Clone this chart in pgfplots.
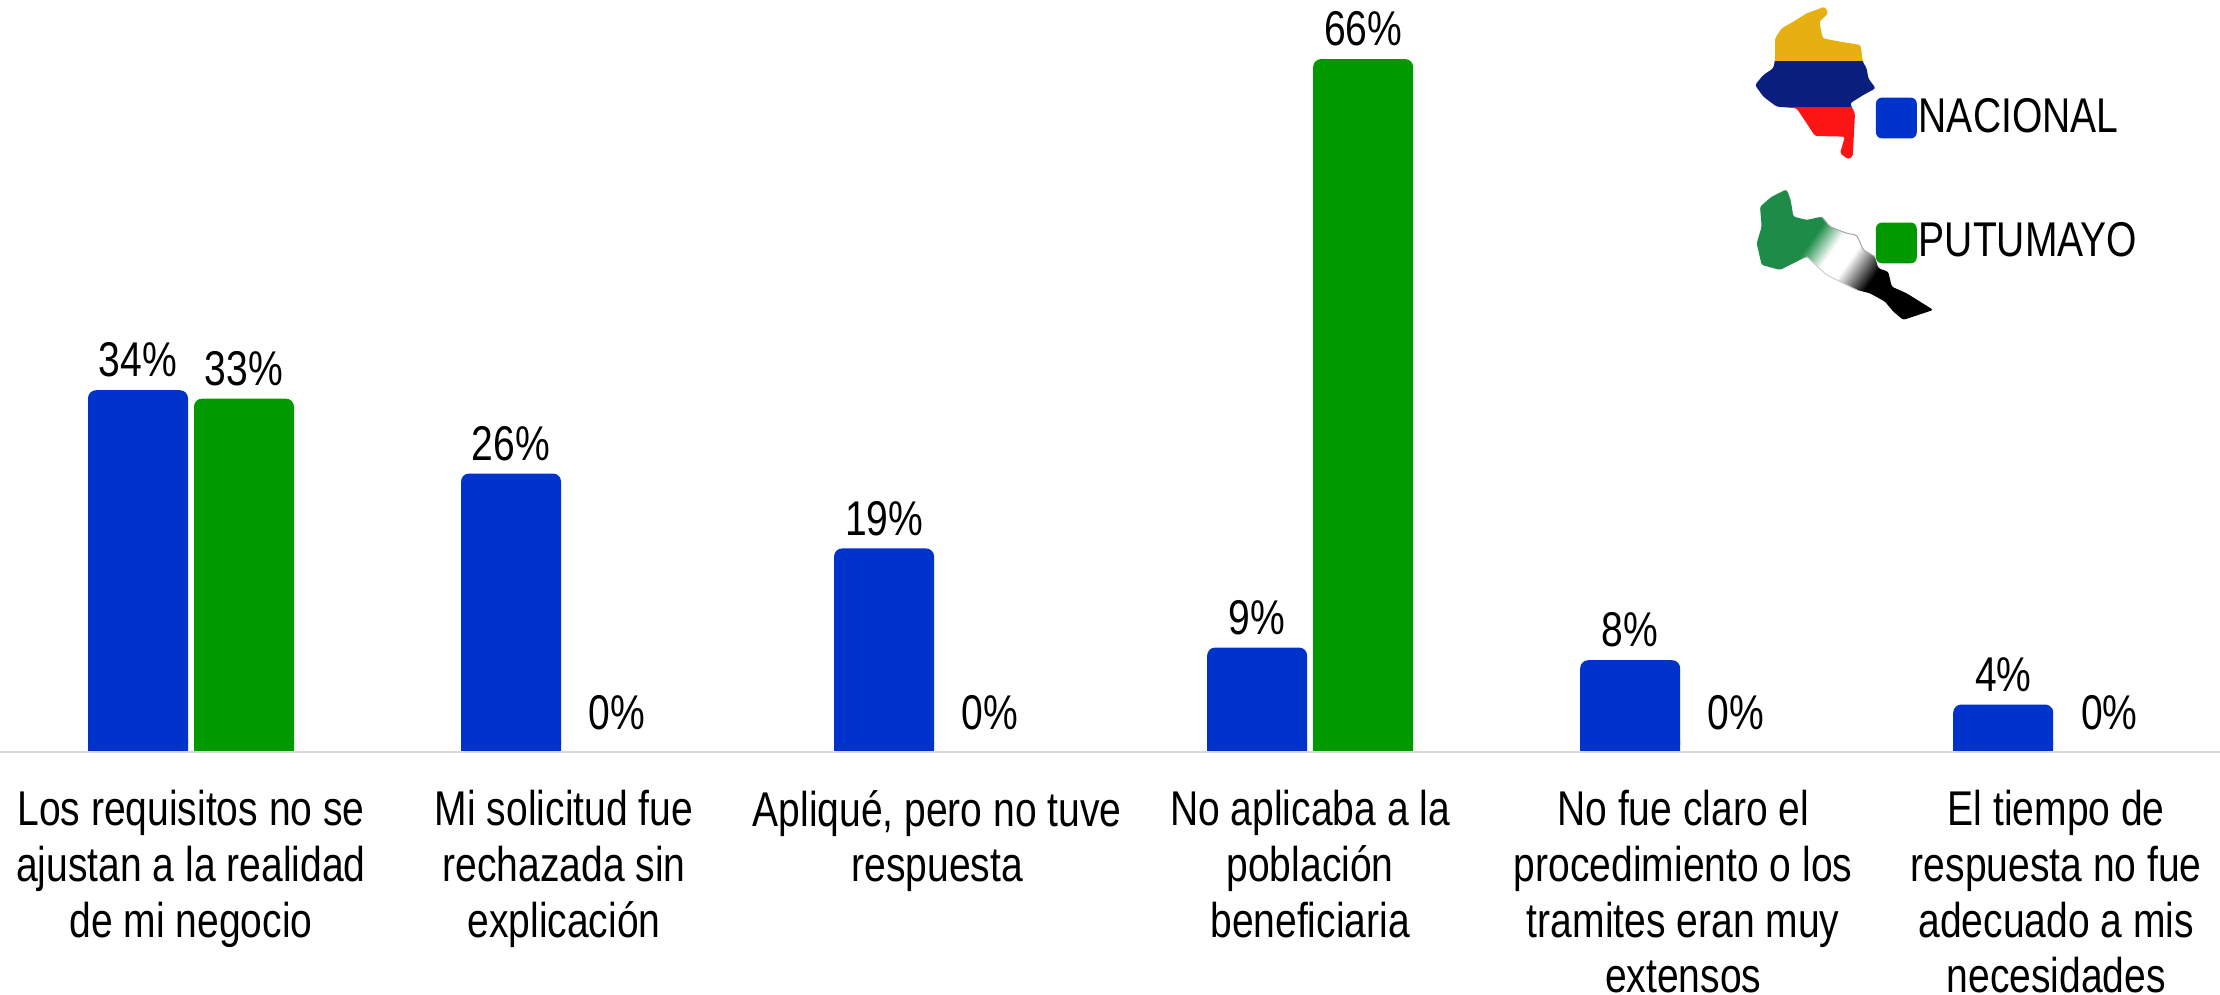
\documentclass[border=0pt]{standalone}
\usepackage{fontspec}
\setmainfont[FakeStretch=0.8]{Liberation Sans}
\usepackage{pgfplots}
\pgfplotsset{compat=1.18}

\definecolor{nacional}{HTML}{0033CC}
\definecolor{putumayo}{HTML}{009900}
\definecolor{baseline}{HTML}{D9D9D9}
\definecolor{flagY}{HTML}{E6B012}
\definecolor{flagB}{HTML}{0A1F7D}
\definecolor{flagR}{HTML}{FB1414}
\definecolor{putG}{HTML}{1E8C48}

\pgfdeclarehorizontalshading{putband}{100bp}{
  color(0bp)=(putG); color(39bp)=(putG); color(46bp)=(white); color(52bp)=(white);
  color(61bp)=(black); color(100bp)=(black)}

\pgfplotsset{
  squarelegend/.style={legend image code/.code={
    \fill[##1,draw=none,rounded corners=1.5pt] (0,-5.1pt) rectangle (10.2pt,5.1pt);}},
}

\begin{document}
\begin{tikzpicture}
\path[use as bounding box] (0,-60.75pt) rectangle (555pt,188pt);
\begin{axis}[
    scale only axis,
    width=555pt, height=188pt,
    ybar,
    bar width=25pt,
    xmin=-0.512, xmax=5.439,
    ymin=0, ymax=71.3,
    axis y line=none,
    axis x line*=bottom,
    axis line style={draw=baseline,line width=0.5pt,-},
    axis on top,
    clip=false,
    major tick length=0pt,
    xtick={0,1,2,3,4,5},
    xticklabels={
      {Los requisitos no se\\ajustan a la realidad\\de mi negocio},
      {Mi solicitud fue\\rechazada sin\\explicación},
      {Apliqué, pero no tuve\\respuesta},
      {No aplicaba a la\\población\\beneficiaria},
      {No fue claro el\\procedimiento o los\\tramites eran muy\\extensos},
      {El tiempo de\\respuesta no fue\\adecuado a mis\\necesidades}},
    x tick label style={align=center,anchor=north,yshift=-6pt,
      font=\fontsize{12.2}{13.95}\selectfont},
    nodes near coords,
    point meta=explicit symbolic,
    visualization depends on=rawy \as \rawy,
    every node near coord/.append style={font=\fontsize{12.2}{14}\selectfont,
      anchor=south,inner sep=0pt,
      yshift={\ifdim\rawy pt<0.1pt 5.2pt\else 3pt\fi}},
    legend style={at={(1876/2220,656/752)},anchor=north west,draw=none,fill=none,
      inner sep=0pt,outer sep=0pt,row sep=20.2pt,
      font=\fontsize{12.2}{14}\selectfont,
      nodes={inner sep=0.5pt}},
    legend cell align=left,
]
\addplot[fill=nacional,draw=none,bar shift=-13.25pt,rounded corners=2pt,squarelegend]
  coordinates {(0,34.3)[34\%] (1,26.4)[26\%] (2,19.3)[19\%] (3,9.9)[9\%] (4,8.7)[8\%] (5,4.5)[4\%]};
\addlegendentry{NACIONAL}
\addplot[fill=putumayo,draw=none,bar shift=13.25pt,rounded corners=2pt,squarelegend]
  coordinates {(0,33.5)[33\%] (3,65.7)[66\%]};
\addlegendentry{PUTUMAYO}
% the zero values of putumayo, without rounding since they have no height
\addplot[fill=none,draw=none,bar shift=13.25pt,forget plot]
  coordinates {(1,0)[0\%] (2,0)[0\%] (4,0)[0\%] (5,0)[0\%]};
% square feet for the bars, only the tops are rounded
\addplot[fill=nacional,draw=none,bar shift=-13.25pt,forget plot,nodes near coords={}]
  coordinates {(0,1)[] (1,1)[] (2,1)[] (3,1)[] (4,1)[] (5,1)[]};
\addplot[fill=putumayo,draw=none,bar shift=13.25pt,forget plot,nodes near coords={}]
  coordinates {(0,1)[] (3,1)[]};
\end{axis}
% map pictures next to the legend, coordinates are 3x zoom pixels
\begin{scope}[shift={(425pt,188pt)},x=0.08333pt,y=-0.08333pt]
  \begin{scope}
    \clip[rounded corners=0.6pt] (375,20)--(385,40)--(358,65)--(368,115)--(420,125)--(482,135)--(488,185)--(500,205)--(505,235)--(527,265)--(490,285)--(450,310)--(465,340)--(462,400)--(458,470)--(445,478)--(420,460)--(435,410)--(345,408)--(320,370)--(290,325)--(230,320)--(190,290)--(165,255)--(190,225)--(220,205)--(225,180)--(225,115)--(245,85)--(280,65)--(320,40)--cycle;
    \fill[flagY] (150,0) rectangle (540,182);
    \fill[flagB] (150,182) rectangle (540,322);
    \fill[flagR] (150,322) rectangle (540,490);
  \end{scope}
  \begin{scope}
    \clip[rounded corners=0.6pt] (260,568)--(272,600)--(280,650)--(320,660)--(365,650)--(390,680)--(440,700)--(470,705)--(490,750)--(525,770)--(535,805)--(565,815)--(575,860)--(620,880)--(660,905)--(700,930)--(610,960)--(580,935)--(555,905)--(510,880)--(470,870)--(430,850)--(380,825)--(320,770)--(270,795)--(240,810)--(185,795)--(170,730)--(185,680)--(180,620)--(215,590)--cycle;
    \shade[shading=putband,shading angle=-35] (160,560) rectangle (710,970);
  \end{scope}
  % grey edge of the white part of the map
  \draw[gray!70,line width=0.25pt,rounded corners=0.6pt] (365,650)--(390,680)--(440,700)--(470,705)--(490,750)--(525,770);
  \draw[gray!40,line width=0.25pt,rounded corners=0.6pt] (470,870)--(430,850)--(380,825)--(320,770);
\end{scope}
\end{tikzpicture}
\end{document}
